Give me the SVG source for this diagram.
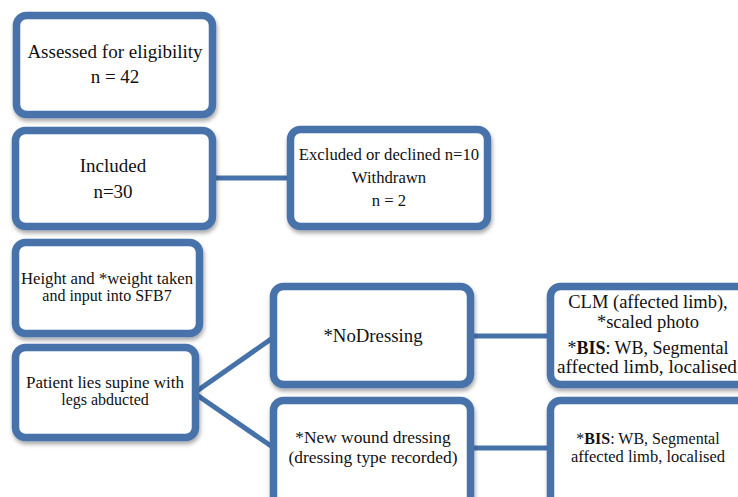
<svg xmlns="http://www.w3.org/2000/svg" width="738" height="497" viewBox="0 0 738 497">
<defs>
<filter id="sh" x="-10%" y="-10%" width="130%" height="130%">
<feGaussianBlur in="SourceAlpha" stdDeviation="2"/>
<feOffset dx="1" dy="3" result="b"/>
<feComponentTransfer><feFuncA type="linear" slope="0.35"/></feComponentTransfer>
<feMerge><feMergeNode/><feMergeNode in="SourceGraphic"/></feMerge>
</filter>
<style>
.box{fill:#fff;stroke:#4672aa;stroke-width:7.5;filter:url(#sh)}
.ln{stroke:#4672aa;stroke-width:5;fill:none}
text{font-family:"Liberation Serif","Times New Roman",serif;fill:#111;text-anchor:middle}
</style>
</defs>
<rect width="738" height="497" fill="#fff"/>
<g id="connectors">
<line class="ln" x1="212" y1="178" x2="291" y2="178"/>
<line class="ln" x1="194" y1="393" x2="274" y2="337"/>
<line class="ln" x1="194" y1="393" x2="274" y2="448"/>
<line class="ln" x1="470" y1="336" x2="551" y2="336"/>
<line class="ln" x1="470" y1="448" x2="551" y2="448"/>
</g>
<g id="assessed">
<rect class="box" x="16.5" y="15.5" width="196" height="99" rx="10"/>
<text x="115" y="58" font-size="19">Assessed for eligibility</text>
<text x="115" y="83" font-size="19">n = 42</text>
</g>
<g id="included">
<rect class="box" x="15.5" y="130.5" width="197" height="96" rx="10"/>
<text x="113" y="172" font-size="19">Included</text>
<text x="113" y="198" font-size="19">n=30</text>
</g>
<g id="excluded">
<rect class="box" x="290.5" y="129.5" width="197" height="97" rx="10"/>
<text x="389" y="160" font-size="16.7">Excluded or declined n=10</text>
<text x="389" y="183" font-size="16.7">Withdrawn</text>
<text x="389" y="206" font-size="16.7">n = 2</text>
</g>
<g id="height">
<rect class="box" x="15.5" y="242.5" width="184" height="91" rx="10"/>
<text x="107" y="284" font-size="16" textLength="172" lengthAdjust="spacingAndGlyphs">Height and *weight taken</text>
<text x="107" y="301" font-size="16">and input into SFB7</text>
</g>
<g id="patient">
<rect class="box" x="15.5" y="347.5" width="180" height="90" rx="10"/>
<text x="105" y="388" font-size="16" textLength="158" lengthAdjust="spacingAndGlyphs">Patient lies supine with</text>
<text x="105" y="405" font-size="16">legs abducted</text>
</g>
<g id="nodressing">
<rect class="box" x="273.5" y="286.5" width="197" height="98" rx="10"/>
<text x="373" y="342" font-size="18.8">*NoDressing</text>
</g>
<g id="newwound">
<rect class="box" x="273.5" y="400.5" width="197" height="110" rx="10"/>
<text x="373" y="443" font-size="17.4">*New wound dressing</text>
<text x="373" y="463" font-size="17.4">(dressing type recorded)</text>
</g>
<g id="clm">
<rect class="box" x="550.5" y="286.5" width="220" height="98" rx="10"/>
<text x="648" y="308" font-size="18.5">CLM (affected limb),</text>
<text x="648" y="328" font-size="18.5">*scaled photo</text>
<text x="648" y="354" font-size="18">*<tspan font-weight="bold">BIS</tspan>: WB, Segmental</text>
<text x="647" y="373" font-size="18" textLength="180" lengthAdjust="spacingAndGlyphs">affected limb, localised</text>
</g>
<g id="bis">
<rect class="box" x="550.5" y="400.5" width="220" height="110" rx="10"/>
<text x="648" y="444" font-size="16">*<tspan font-weight="bold">BIS</tspan>: WB, Segmental</text>
<text x="648" y="462" font-size="16" textLength="154" lengthAdjust="spacingAndGlyphs">affected limb, localised</text>
</g>
</svg>
